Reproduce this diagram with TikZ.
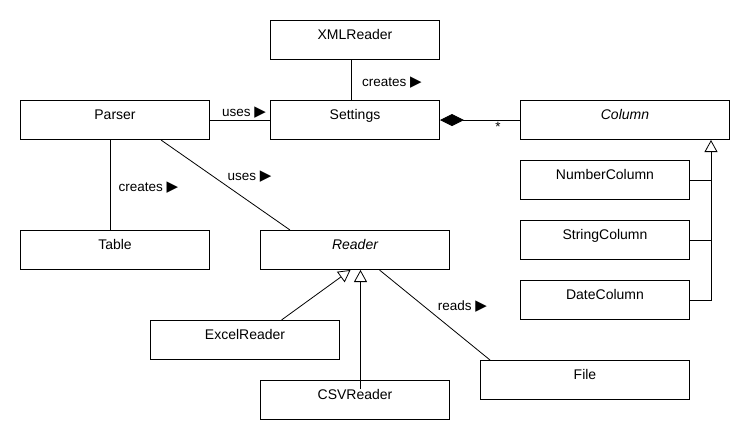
\documentclass[tikz,border=0pt]{standalone}
\usepackage{fontspec}
\setmainfont{Liberation Sans}
\newfontfamily\symfont{DejaVu Sans}
\usetikzlibrary{arrows.meta}
\newcommand{\tri}{{\symfont\fontsize{15pt}{15pt}\selectfont ▶}}
\begin{document}
\begin{tikzpicture}[x=1pt,y=-1pt,
  box/.style={draw, line width=1pt, minimum width=#1, minimum height=39pt, inner sep=0pt, anchor=north west},
  nm/.style={anchor=base, inner sep=0pt, font=\fontsize{14pt}{16pt}\selectfont},
  lbl/.style={anchor=base, inner sep=0pt, font=\fontsize{13.5pt}{16pt}\selectfont},
  conn/.style={line width=0.8pt},
  inh/.style={conn, -{Triangle[open, length=12pt, width=13pt, fill=white, line width=0.8pt]}}
]
\useasboundingbox (0,0) rectangle (750,440);

% boxes
\node[box=169pt] (xml) at (270,20) {};
\node[box=189pt] (parser) at (20,100) {};
\node[box=169pt] (settings) at (270,100) {};
\node[box=209pt] (column) at (520,100) {};
\node[box=169pt] (numcol) at (520,160) {};
\node[box=169pt] (strcol) at (520,220) {};
\node[box=169pt] (datecol) at (520,280) {};
\node[box=189pt] (table) at (20,230) {};
\node[box=189pt] (reader) at (260,230) {};
\node[box=189pt] (excel) at (150,320) {};
\node[box=189pt] (csv) at (260,380) {};
\node[box=209pt] (file) at (480,360) {};

% box names
\node[nm] (xmlT) at ([yshift=-19pt]xml.north) {XMLReader};
\node[nm] (parserT) at ([yshift=-19pt]parser.north) {Parser};
\node[nm] (settingsT) at ([yshift=-19pt]settings.north) {Settings};
\node[nm] (columnT) at ([yshift=-19pt]column.north) {\itshape Column};
\node[nm] (numcolT) at ([yshift=-19pt]numcol.north) {NumberColumn};
\node[nm] (strcolT) at ([yshift=-19pt]strcol.north) {StringColumn};
\node[nm] (datecolT) at ([yshift=-19pt]datecol.north) {DateColumn};
\node[nm] (tableT) at ([yshift=-19pt]table.north) {Table};
\node[nm] (readerT) at ([yshift=-19pt]reader.north) {\itshape Reader};
\node[nm] (excelT) at ([yshift=-19pt]excel.north) {ExcelReader};
\node[nm] (csvT) at ([yshift=-19pt]csv.north) {CSVReader};
\node[nm] (fileT) at ([yshift=-19pt]file.north) {File};

% associations
\draw[conn] ([xshift=-4pt]xml.south) -- ([xshift=-4pt]settings.north);
\draw[conn] (parser) -- (settings);
\draw[conn] ([xshift=-4.5pt]parser.south) -- ([xshift=-4.5pt]table.north);
\draw[conn] ([xshift=-49pt]parser.south east) -- ([xshift=30pt]reader.north west);
\draw[conn] ([xshift=24.5pt]reader.south) -- ([xshift=10pt]file.north west);
\draw[conn, -{Diamond[length=24pt, width=12pt]}] (column) -- (settings);

% generalisations
\draw[inh] ([xshift=36.5pt]excel.north) -- ([xshift=-4.5pt]reader.south);
\draw[inh] ([xshift=5.5pt, yshift=-9pt]csv.north) -- ([xshift=5.5pt]reader.south);
\coordinate (colfoot) at ([xshift=-19pt]column.south east);
\draw[inh] (datecol.east) -| (colfoot);
\draw[conn] (numcol.east) -- (numcol.east -| colfoot);
\draw[conn] (strcol.east) -- (strcol.east -| colfoot);

% labels
\node[lbl] (l1) at (392,86.5) {creates \tri};
\node[lbl] (l2) at (244,116) {uses \tri};
\node[lbl] (l3) at (148.5,191.5) {creates \tri};
\node[lbl] (l4) at (249.5,180) {uses \tri};
\node[lbl] (l5) at (462.5,310.5) {reads \tri};
\node[lbl] (star) at (498,131) {*};
\end{tikzpicture}
\end{document}
